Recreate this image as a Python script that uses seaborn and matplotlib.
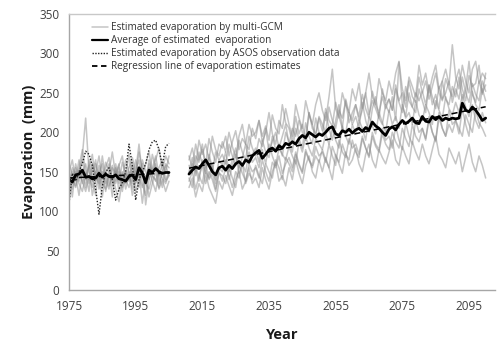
import numpy as np
import pandas as pd
import seaborn as sns
import matplotlib
matplotlib.use("Agg")
import matplotlib.pyplot as plt
from matplotlib.lines import Line2D

# ---- data -------------------------------------------------------------
hist_years = list(range(1975, 2006))
fut_years = list(range(2011, 2101))

# multi-GCM evaporation, historical run (1975-2005)
gcm_hist = {
    "GCM1": [150, 135, 160, 142, 170, 218, 150, 138, 160, 145, 130, 155, 168, 140, 150, 135,
             162, 148, 138, 158, 145, 130, 165, 150, 140, 172, 155, 145, 160, 150, 170],
    "GCM2": [128, 150, 140, 165, 135, 148, 125, 160, 145, 135, 170, 140, 128, 155, 148, 160,
             130, 145, 172, 138, 150, 165, 135, 120, 160, 145, 138, 155, 165, 140, 150],
    "GCM3": [145, 118, 155, 138, 150, 130, 165, 142, 120, 158, 145, 135, 150, 118, 160, 140,
             150, 128, 145, 135, 165, 150, 110, 142, 155, 138, 125, 150, 142, 135, 148],
    "GCM4": [160, 145, 132, 150, 165, 140, 155, 172, 138, 148, 160, 125, 145, 158, 135, 150,
             140, 165, 150, 128, 145, 175, 152, 138, 165, 148, 160, 135, 150, 158, 145],
    "GCM5": [135, 155, 145, 120, 148, 160, 135, 150, 165, 128, 150, 145, 160, 132, 140, 155,
             125, 150, 140, 162, 135, 148, 160, 108, 140, 155, 170, 145, 130, 160, 155],
    "GCM6": [112, 140, 130, 150, 138, 125, 145, 130, 150, 140, 118, 150, 132, 145, 128, 112,
             140, 135, 150, 120, 138, 145, 130, 145, 118, 135, 150, 128, 140, 125, 138],
    "GCM7": [150, 165, 138, 155, 178, 150, 140, 160, 148, 170, 140, 162, 150, 175, 145, 158,
             170, 140, 155, 168, 150, 185, 145, 160, 175, 150, 165, 180, 152, 170, 160],
    "GCM8": [140, 128, 150, 135, 125, 145, 158, 120, 140, 150, 135, 128, 145, 138, 155, 125,
             148, 140, 130, 152, 125, 140, 150, 135, 128, 145, 140, 130, 150, 138, 145],
}

# multi-GCM evaporation, scenario run (2011-2100)
gcm_fut = {
    "GCM1": [165, 180, 158, 190, 172, 185, 165, 195, 178, 170,
             188, 175, 200, 182, 168, 195, 210, 185, 178, 205,
             192, 215, 188, 200, 225, 198, 185, 215, 205, 230,
             210, 195, 235, 218, 205, 240, 222, 210, 235, 250,
             228, 215, 245, 280, 230, 218, 250, 235, 225, 255,
             240, 262, 230, 250, 275, 245, 235, 268, 250, 240,
             265, 248, 275, 290, 255, 240, 270, 258, 245, 285,
             260, 275, 250, 270, 285, 255, 265, 280, 260, 311,
             270, 255, 285, 265, 250, 280, 290, 262, 275, 268],
    "GCM2": [150, 168, 145, 175, 160, 148, 172, 155, 140, 165,
             158, 175, 150, 165, 180, 155, 168, 185, 160, 172,
             180, 162, 190, 175, 168, 195, 178, 185, 170, 200,
             188, 175, 205, 192, 180, 212, 195, 185, 218, 200,
             195, 225, 205, 190, 215, 235, 205, 198, 225, 210,
             220, 205, 238, 215, 200, 230, 245, 218, 210, 235,
             225, 245, 215, 289, 235, 220, 250, 232, 225, 255,
             240, 225, 260, 235, 248, 230, 265, 242, 235, 258,
             245, 270, 240, 255, 290, 248, 238, 265, 250, 260],
    "GCM3": [138, 150, 128, 145, 158, 135, 150, 140, 125, 148,
             145, 135, 155, 142, 130, 158, 148, 138, 160, 150,
             155, 142, 165, 150, 138, 162, 155, 170, 148, 160,
             168, 155, 175, 160, 150, 178, 165, 158, 182, 170,
             175, 162, 185, 170, 158, 190, 175, 168, 192, 180,
             185, 172, 195, 180, 168, 200, 185, 178, 205, 190,
             195, 180, 208, 190, 178, 212, 195, 185, 215, 200,
             205, 190, 220, 200, 188, 225, 205, 195, 228, 210,
             215, 198, 230, 210, 195, 235, 215, 205, 225, 212],
    "GCM4": [130, 142, 118, 135, 125, 148, 130, 120, 110, 138,
             128, 145, 132, 120, 140, 150, 128, 138, 155, 135,
             142, 130, 155, 140, 128, 150, 162, 138, 145, 132,
             155, 140, 165, 148, 135, 158, 170, 150, 142, 165,
             150, 168, 155, 140, 172, 160, 148, 175, 158, 165,
             180, 160, 150, 172, 185, 165, 155, 178, 168, 160,
             175, 190, 165, 158, 182, 170, 160, 188, 175, 165,
             185, 170, 160, 178, 195, 172, 165, 155, 180, 170,
             160, 175, 150, 168, 185, 162, 150, 170, 158, 142],
    "GCM5": [158, 148, 170, 162, 185, 155, 168, 150, 175, 165,
             172, 160, 185, 170, 158, 190, 175, 165, 195, 180,
             170, 192, 182, 205, 175, 188, 200, 180, 195, 210,
             185, 205, 195, 215, 200, 190, 225, 205, 198, 220,
             210, 200, 232, 215, 205, 228, 218, 240, 212, 225,
             235, 215, 228, 250, 222, 240, 230, 218, 255, 235,
             242, 228, 260, 240, 250, 232, 265, 245, 238, 270,
             250, 265, 242, 258, 275, 250, 240, 268, 255, 245,
             265, 280, 255, 240, 272, 258, 262, 285, 248, 275],
    "GCM6": [148, 160, 152, 138, 165, 150, 142, 160, 135, 155,
             150, 165, 140, 158, 172, 148, 160, 150, 175, 162,
             168, 155, 178, 160, 185, 170, 158, 180, 172, 165,
             182, 170, 160, 188, 175, 195, 180, 170, 192, 185,
             178, 198, 185, 205, 190, 180, 208, 195, 185, 210,
             198, 215, 205, 190, 220, 208, 198, 225, 212, 200,
             228, 210, 220, 205, 235, 218, 225, 210, 240, 222,
             215, 235, 225, 210, 240, 228, 218, 245, 230, 222,
             238, 225, 248, 232, 220, 252, 235, 228, 255, 240],
    "GCM7": [142, 130, 155, 145, 135, 160, 140, 148, 128, 150,
             138, 155, 145, 130, 150, 142, 160, 135, 148, 140,
             158, 145, 135, 160, 150, 142, 165, 155, 140, 168,
             160, 150, 172, 158, 148, 175, 165, 155, 170, 162,
             178, 165, 155, 182, 170, 162, 185, 172, 165, 190,
             175, 168, 192, 180, 170, 195, 182, 175, 198, 185,
             178, 200, 188, 180, 205, 192, 182, 210, 195, 188,
             205, 192, 215, 200, 190, 218, 205, 195, 210, 200,
             215, 205, 195, 222, 210, 200, 228, 212, 205, 195],
    "GCM8": [170, 155, 185, 165, 178, 160, 192, 175, 162, 185,
             180, 195, 170, 188, 202, 178, 192, 185, 210, 195,
             200, 215, 195, 208, 190, 222, 205, 198, 235, 212,
             205, 188, 220, 198, 210, 190, 225, 210, 195, 218,
             202, 230, 215, 208, 238, 220, 205, 242, 225, 215,
             235, 220, 248, 230, 218, 252, 235, 225, 245, 230,
             242, 228, 255, 238, 225, 258, 240, 232, 250, 240,
             252, 235, 260, 245, 230, 258, 242, 250, 265, 238,
             255, 242, 270, 250, 238, 262, 248, 240, 265, 252],
}

# ensemble average
avg_hist = [140, 137, 146, 147, 152, 143, 144, 141, 142, 148, 143, 147, 144, 143, 146, 141,
            140, 138, 144, 146, 140, 155, 148, 136, 152, 149, 154, 150, 148, 149, 149]
avg_fut = [147, 152, 156, 154, 160, 165, 158, 150, 146, 155,
           157, 152, 158, 154, 160, 163, 158, 165, 162, 170,
           174, 177, 167, 172, 178, 180, 176, 183, 180, 186,
           184, 188, 185, 192, 196, 193, 200, 197, 194, 198,
           196, 200, 205, 207, 198, 196, 202, 200, 204, 199,
           203, 205, 201, 206, 203, 213, 208, 205, 200, 196,
           204, 207, 203, 210, 215, 211, 214, 218, 212, 211,
           220, 214, 213, 220, 216, 220, 215, 218, 216, 218,
           217, 218, 237, 228, 226, 232, 228, 222, 215, 218]

# ASOS station observations
asos = [110, 148, 138, 150, 160, 176, 172, 158, 128, 96, 132, 150, 155, 140, 114, 128,
        136, 150, 185, 158, 114, 140, 150, 160, 178, 188, 190, 178, 158, 182, 186]

x_ticks = [1975, 1995, 2015, 2035, 2055, 2075, 2095]
y_ticks = [0, 50, 100, 150, 200, 250, 300, 350]

# ---- long-form tables ---------------------------------------------------
rows = []
for name, vals in gcm_hist.items():
    for yr, v in zip(hist_years, vals):
        rows.append((yr, v, name + "_h"))
for name, vals in gcm_fut.items():
    for yr, v in zip(fut_years, vals):
        rows.append((yr, v, name + "_f"))
gcm_df = pd.DataFrame(rows, columns=["year", "evap", "run"])

avg_df = pd.DataFrame(
    {"year": hist_years + fut_years,
     "evap": avg_hist + avg_fut,
     "period": ["h"] * len(hist_years) + ["f"] * len(fut_years)})

asos_df = pd.DataFrame({"year": hist_years, "evap": asos})

# linear trend of the average for each period
trend_parts = []
for per, yrs, vals in (("h", hist_years, avg_hist), ("f", fut_years, avg_fut)):
    b, a = np.polyfit(yrs, vals, 1)
    trend_parts.append(pd.DataFrame({"year": yrs, "evap": a + b * np.array(yrs), "period": per}))
trend_df = pd.concat(trend_parts, ignore_index=True)

# ---- plot ---------------------------------------------------------------
sns.set_style("white")
plt.rcParams["font.family"] = ["Open Sans", "DejaVu Sans"]

fig = plt.figure(figsize=(4.97, 3.41), dpi=100)
ax = fig.add_axes([69 / 497, 1 - 290 / 341, (495 - 69) / 497, 276 / 341])

gcm_color = "#8c8c8c"
sns.lineplot(data=gcm_df, x="year", y="evap", units="run", estimator=None,
             color=gcm_color, alpha=0.5, linewidth=1.1, ax=ax, legend=False)
sns.lineplot(data=asos_df, x="year", y="evap", color="#222222", linestyle=(0, (1, 1.2)),
             linewidth=1.0, ax=ax, legend=False)
sns.lineplot(data=avg_df, x="year", y="evap", units="period", estimator=None,
             color="black", linewidth=2.0, ax=ax, legend=False)
sns.lineplot(data=trend_df, x="year", y="evap", units="period", estimator=None,
             color="black", linestyle=(0, (4, 2.5)), linewidth=1.1, ax=ax, legend=False)

ax.set_xlim(1975, 2102.8)
ax.set_ylim(0, 350)
ax.set_xticks(x_ticks)
ax.set_yticks(y_ticks)

spine_color = "#a6a6a6"
ax.spines["right"].set_visible(False)
ax.spines["top"].set_color("#c8c8c8")
ax.spines["top"].set_linewidth(1.0)
for side in ("left", "bottom"):
    ax.spines[side].set_color(spine_color)
    ax.spines[side].set_linewidth(1.0)
ax.tick_params(axis="both", direction="in", length=3, width=0.8, color=spine_color,
               labelsize=8.5, labelcolor="#404040")
ax.tick_params(axis="x", pad=7)
ax.tick_params(axis="y", pad=7)

ax.set_xlabel("Year", fontsize=10.5, fontweight="bold", color="#1a1a1a", labelpad=11)
ax.set_ylabel("Evaporation  (mm)", fontsize=10.5, fontweight="bold", color="#1a1a1a", labelpad=2)

handles = [
    Line2D([], [], color=gcm_color, alpha=0.5, linewidth=1.1),
    Line2D([], [], color="black", linewidth=1.6),
    Line2D([], [], color="#222222", linestyle=(0, (1, 1)), linewidth=1.0),
    Line2D([], [], color="black", linestyle=(0, (3, 2)), linewidth=1.3),
]
labels = [
    "Estimated evaporation by multi-GCM",
    "Average of estimated  evaporation",
    "Estimated evaporation by ASOS observation data",
    "Regression line of evaporation estimates",
]
leg = ax.legend(handles, labels, loc="upper left", bbox_to_anchor=((92 - 69) / 426, 0.97),
                borderaxespad=0, fontsize=7.2, handlelength=1.55, handletextpad=0.35,
                labelspacing=0.2, frameon=False, borderpad=0,
                labelcolor="#333333")

fig.savefig("out.png", dpi=100)
